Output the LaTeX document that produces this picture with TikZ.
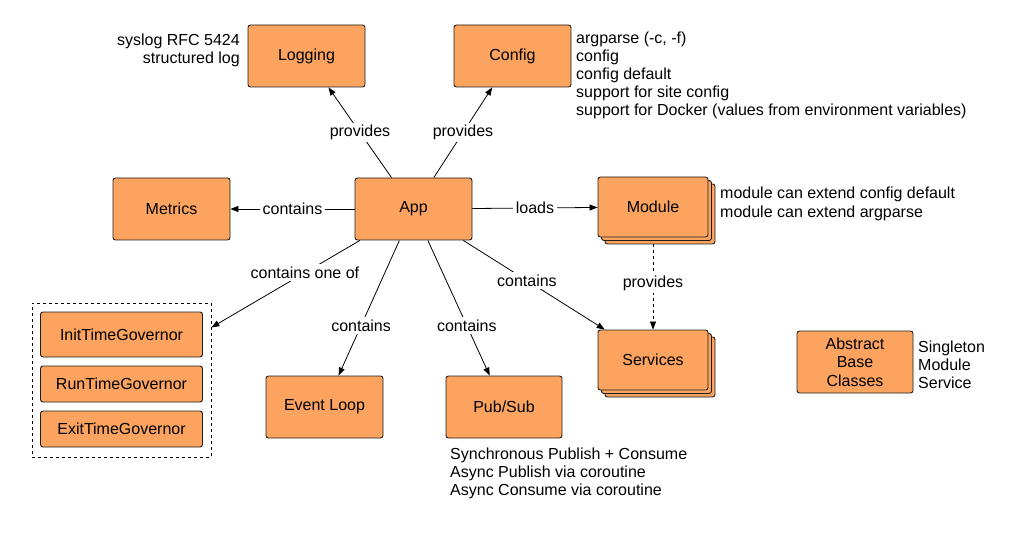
\documentclass[tikz,border=0pt]{standalone}
\usepackage{fontspec}
\setmainfont{Liberation Sans}
\usetikzlibrary{arrows.meta,shadows}
\definecolor{boxorange}{RGB}{252,163,95}
\definecolor{edgegray}{RGB}{30,30,30}
\begin{document}
\begin{tikzpicture}[x=1pt,y=-1pt,
  font=\fontsize{16}{18}\selectfont,
  box/.style={draw=edgegray, fill=boxorange, rounded corners=2.5pt, line width=0.9pt,
    minimum width=117pt, minimum height=62pt, inner sep=0pt, align=center},
  stackbox/.style={box, minimum width=110pt, minimum height=60pt,
    double copy shadow={shadow xshift=3.5pt, shadow yshift=-3.5pt, draw=edgegray, fill=boxorange}},
  govbox/.style={box, minimum width=162pt, minimum height=36pt},
  groupbox/.style={draw=black, dashed, line width=0.8pt, minimum width=179pt, minimum height=154pt, inner sep=0pt},
  note/.style={inner sep=0pt, font=\fontsize{16}{18}\selectfont},
  arr/.style={-{Triangle[length=8pt,width=6pt]}, line width=0.8pt},
  lbl/.style={fill=white, inner sep=2.5pt}
]
\useasboundingbox (0,0) rectangle (1032,534);

% boxes
\node[box] (logging) at (306.5,56) {Logging};
\node[box] (config) at (512.5,56) {Config};
\node[box] (metrics) at (171.5,209) {Metrics};
\node[box] (app) at (413.5,209) {App};
\node[stackbox] (module) at (653,207) {Module};
\node[stackbox] (services) at (653,360) {Services};
\node[groupbox] (group) at (121.5,380) {};
\node[govbox, minimum height=45pt] (init) at (121.5,334.5) {InitTimeGovernor};
\node[govbox] (run) at (121.5,384) {RunTimeGovernor};
\node[govbox] (exit) at (121.5,429) {ExitTimeGovernor};
\node[box] (evloop) at (324.5,407) {Event Loop};
\node[box, minimum width=116pt] (pubsub) at (504,407) {Pub/Sub};
\node[box, minimum width=116pt, font=\fontsize{16}{18.5}\selectfont] (abc) at (855,362) {Abstract\\Base\\Classes};

% notes
\node[note, anchor=east, align=right] (lognote) at (240,50) {syslog RFC 5424\\structured log};
\node[note, anchor=west, align=left] (confnote) at (576,75.5) {argparse (-c, -f)\\config\\config default\\support for site config\\support for Docker (values from environment variables)};
\node[note, anchor=west, align=left, font=\fontsize{16}{19}\selectfont] (modnote) at (720,203.5) {module can extend config default\\module can extend argparse};
\node[note, anchor=west, align=left] (psnote) at (450,473.5) {Synchronous Publish + Consume\\Async Publish via coroutine\\Async Consume via coroutine};
\node[note, anchor=west, align=left] (abcnote) at (918,365) {Singleton\\Module\\Service};

% connectors
\draw[arr] (app) -- node[lbl] {provides} (logging);
\draw[arr] (app) -- node[lbl] {provides} (config);
\draw[arr] (app) -- node[lbl] {contains} (metrics);
\draw[arr] (app) -- node[lbl] {loads} (module);
\draw[arr] (app) -- node[lbl, pos=0.37] {contains one of} (group);
\draw[arr] (app) -- node[lbl, pos=0.63] {contains} (evloop);
\draw[arr] (app) -- node[lbl, pos=0.63] {contains} (pubsub);
\draw[arr] (app) -- node[lbl, pos=0.45] {contains} (services);
\draw[arr, dashed, shorten <=7pt] (module) -- node[lbl] {provides} (services);
\end{tikzpicture}
\end{document}
